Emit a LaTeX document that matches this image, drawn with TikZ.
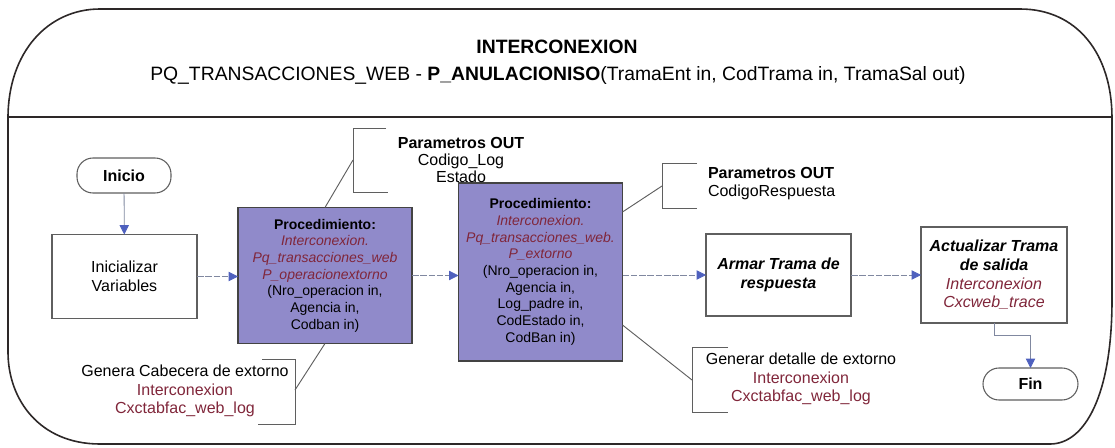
\documentclass[tikz,border=0pt]{standalone}
\usepackage{fontspec}
\setmainfont{Liberation Sans}
\usetikzlibrary{arrows.meta,calc}

\definecolor{procfill}{RGB}{144,138,202}
\definecolor{codered}{RGB}{128,38,58}
\definecolor{tipblue}{RGB}{78,96,190}
\definecolor{flowgray}{RGB}{128,136,160}
\definecolor{boxgray}{RGB}{95,95,95}
\definecolor{framegray}{RGB}{45,40,40}

\newcommand{\redtxt}[1]{\textcolor{codered}{#1}}

\begin{document}
\begin{tikzpicture}[x=0.75pt,y=-0.75pt,
  every node/.style={inner sep=0pt, outer sep=0pt},
  box/.style={draw=boxgray, line width=0.8pt, fill=white, align=center,
    font=\fontsize{12}{14}\selectfont},
  procbox/.style={draw=boxgray!70!black, line width=0.9pt, fill=procfill, align=center,
    font=\fontsize{10.5}{12.5}\selectfont},
  term/.style={box, rounded corners=12pt, font=\fontsize{12}{14}\selectfont\bfseries},
  note/.style={align=center, font=\fontsize{12}{14}\selectfont},
  flow/.style={draw=flowgray, line width=0.6pt,
    -{Triangle[length=7pt,width=7pt,color=tipblue]}},
  flowdash/.style={flow, dash pattern=on 5pt off 1.2pt},
  callout/.style={draw=boxgray, line width=0.7pt}
]
\useasboundingbox (0,0) rectangle (1115,447);

% outer frame with header band
\draw[framegray, line width=1.2pt]
  (100,9) -- (1020,9)
  .. controls (1078,9) and (1112,55) .. (1112,118)
  -- (1112,300)
  .. controls (1112,395) and (1085,444) .. (1050,444)
  -- (100,444)
  .. controls (40,444) and (8,400) .. (8,352)
  -- (8,118)
  .. controls (8,52) and (48,9) .. (100,9) -- cycle;
\draw[framegray, line width=1.5pt] (8,117) -- (1112,117);

% header
\node[font=\fontsize{14.5}{16}\selectfont\bfseries] (title) at (557,47) {INTERCONEXION};
\node[font=\fontsize{14.5}{16}\selectfont] (signature) at (558,75)
  {PQ\_TRANSACCIONES\_WEB - \textbf{P\_ANULACIONISO}(TramaEnt in, CodTrama in, TramaSal out)};

% flow nodes
\node[term, minimum width=70.5pt, minimum height=26.25pt] (inicio) at (124,175.5) {Inicio};
\node[box, minimum width=108.75pt, minimum height=63pt] (init) at (124.5,276.5)
  {Inicializar\\Variables};
\node[procbox, minimum width=130.5pt, minimum height=102pt] (proc1) at (325,275.5)
  {\textbf{Procedimiento:}\\
   \redtxt{\itshape Interconexion.}\\
   \redtxt{\itshape Pq\_transacciones\_web}\\
   \redtxt{\itshape P\_operacionextorno}\\
   (Nro\_operacion in,\\ Agencia in,\\ Codban in)};
\node[procbox, minimum width=123pt, minimum height=133.5pt] (proc2) at (540.5,272)
  {\textbf{Procedimiento:}\\
   \redtxt{\itshape Interconexion.}\\
   \redtxt{\itshape Pq\_transacciones\_web.}\\
   \redtxt{\itshape P\_extorno}\\
   (Nro\_operacion in,\\ Agencia in,\\ Log\_padre in,\\ CodEstado in,\\ CodBan in)};
\node[box, minimum width=108.75pt, minimum height=61.5pt,
      font=\fontsize{12}{14}\selectfont\bfseries\itshape] (armar) at (778.5,275)
  {Armar Trama de\\respuesta};
\node[box, minimum width=109.5pt, minimum height=72pt] (actual) at (994,275)
  {\textbf{\itshape Actualizar Trama}\\
   \textbf{\itshape de salida}\\
   \redtxt{\itshape Interconexion}\\
   \redtxt{\itshape Cxcweb\_trace}};
\node[term, minimum width=71.25pt, minimum height=24pt] (fin) at (1030.5,384) {Fin};

% flow connectors
\draw[flow] (inicio) -- (init);
\draw[flowdash] (init.east) -- (init.east -| proc1.west);
\draw[flowdash] (proc1.east) -- (proc1.east -| proc2.west);
\draw[flowdash] (proc2.east |- armar.west) -- (armar.west);
\draw[flowdash] (armar.east) -- (armar.east -| actual.west);
\draw[flow] (actual.south) -- ++(0,12) -| (fin.north);

% callout: output parameters of the first procedure
\node[note, font=\fontsize{12}{12.4}\selectfont] (out1) at (461,160)
  {\textbf{Parametros OUT}\\Codigo\_Log\\Estado};
\coordinate (b1) at (353,160);
\draw[callout] (386,128) -- (353,128) -- (353,192) -- (388,192);
\draw[callout] (b1) -- (proc1.north);

% callout: output parameters of the second procedure
\node[align=left, anchor=west, font=\fontsize{12}{13.5}\selectfont] (out2) at (708,184)
  {\textbf{Parametros OUT}\\CodigoRespuesta};
\coordinate (b2) at (662,186);
\draw[callout] (697,163) -- (662,163) -- (662,208) -- (697,208);
\draw[callout] (proc2.east |- 0,212) -- (b2);

% callout: detail log of the reversal
\node[note] (log2) at (801,379)
  {Generar detalle de extorno\\\redtxt{Interconexion}\\\redtxt{Cxctabfac\_web\_log}};
\coordinate (b3) at (692,380);
\draw[callout] (728,347) -- (692,347) -- (692,412) -- (728,412);
\draw[callout] (proc2.east |- 0,325) -- (b3);

% callout: header log of the reversal
\node[note] (log1) at (185,391)
  {Genera Cabecera de extorno\\\redtxt{Interconexion}\\\redtxt{Cxctabfac\_web\_log}};
\coordinate (b4) at (295,390);
\draw[callout] (262,359) -- (295,359) -- (295,424) -- (258,424);
\draw[callout] (b4) -- (proc1.south);
\end{tikzpicture}
\end{document}
